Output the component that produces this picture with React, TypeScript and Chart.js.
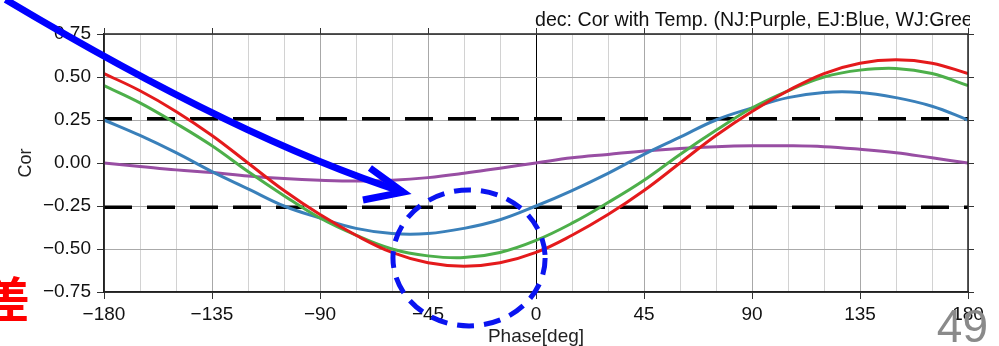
import React, { useEffect, useRef } from 'react';
import { Chart, registerables } from 'chart.js';

Chart.register(...registerables);

// ---- data ----
const phases = [-180, -165, -150, -135, -120, -105, -90, -75, -60, -45, -30, -15, 0, 15, 30, 45, 60, 75, 90, 105, 120, 135, 150, 165, 180];
const sjRed = [0.52, 0.42, 0.3, 0.16, 0.0, -0.16, -0.3, -0.42, -0.52, -0.58, -0.6, -0.58, -0.52, -0.42, -0.3, -0.16, 0.0, 0.16, 0.3, 0.42, 0.52, 0.58, 0.6, 0.58, 0.52];
const wjGreen = [0.45, 0.35, 0.23, 0.1, -0.05, -0.19, -0.32, -0.42, -0.5, -0.54, -0.55, -0.52, -0.45, -0.35, -0.23, -0.1, 0.05, 0.19, 0.32, 0.42, 0.5, 0.54, 0.55, 0.52, 0.45];
const ejBlue = [0.25, 0.16, 0.06, -0.05, -0.15, -0.25, -0.32, -0.38, -0.41, -0.41, -0.38, -0.33, -0.25, -0.16, -0.06, 0.05, 0.15, 0.25, 0.32, 0.38, 0.41, 0.41, 0.38, 0.33, 0.25];
const njPurple = [0.0, -0.02, -0.04, -0.055, -0.075, -0.09, -0.1, -0.105, -0.1, -0.085, -0.06, -0.03, 0.0, 0.03, 0.05, 0.07, 0.085, 0.095, 0.1, 0.1, 0.095, 0.08, 0.06, 0.03, 0.0];
const sigLevel = 0.257;

const titleText = 'dec: Cor with Temp. (NJ:Purple, EJ:Blue, WJ:Green, SJ:Red)';
const xAxisTitle = 'Phase[deg]';
const yAxisTitle = 'Cor';
const pageNumber = '49';
const sideNote = '差';

// annotation geometry, in data units (phase, cor)
const arrowStart = [-221, 0.95];
const arrowCtrl = [-123, 0.134];
const arrowTip = [-55.4, -0.169];
const arrowWingA = [-69.2, -0.029];
const arrowWingB = [-72.1, -0.215];
const circleCenter = [-27.9, -0.552];
const circleRadius = [31.7, 0.395];

const FONT = "'Liberation Sans', Arial, Helvetica, sans-serif";

const fmt = (v: number, digits: number) => {
  const s = Math.abs(v).toFixed(digits);
  return v < -1e-9 ? '\u2212' + s : s;
};

const overlay = {
  id: 'overlay',
  afterDatasetsDraw(chart: any) {
    const { ctx, chartArea: a, scales } = chart;
    const xs = scales.x;
    const ys = scales.y;
    ctx.save();
    ctx.strokeStyle = '#222';
    ctx.lineWidth = 1.5;
    ctx.strokeRect(a.left, a.top, a.right - a.left, a.bottom - a.top);
    ctx.lineWidth = 1;
    ctx.strokeStyle = '#333';
    ctx.beginPath();
    for (const p of phases) {
      if (p % 45 !== 0) continue;
      const px = Math.round(xs.getPixelForValue(p)) + 0.5;
      ctx.moveTo(px, a.top);
      ctx.lineTo(px, a.top - 6);
    }
    for (let v = -0.75; v <= 0.751; v += 0.25) {
      const py = Math.round(ys.getPixelForValue(v)) + 0.5;
      ctx.moveTo(a.right, py);
      ctx.lineTo(a.right + 6, py);
    }
    ctx.stroke();
    ctx.restore();
  },
  afterDraw(chart: any) {
    const { ctx, chartArea: a, scales } = chart;
    const xs = scales.x;
    const ys = scales.y;
    const P = (d: number[]) => [xs.getPixelForValue(d[0]), ys.getPixelForValue(d[1])];

    // title, clipped at the frame's right edge
    ctx.save();
    ctx.beginPath();
    ctx.rect(0, 0, a.right + 2, a.top);
    ctx.clip();
    ctx.fillStyle = '#111';
    ctx.font = `19.6px ${FONT}`;
    ctx.textAlign = 'left';
    ctx.textBaseline = 'alphabetic';
    ctx.fillText(titleText, xs.getPixelForValue(0) - 1, 26);
    ctx.restore();

    // dashed ellipse
    ctx.save();
    const c = P(circleCenter);
    const rx = Math.abs(xs.getPixelForValue(circleCenter[0] + circleRadius[0]) - c[0]);
    const ry = Math.abs(ys.getPixelForValue(circleCenter[1] + circleRadius[1]) - c[1]);
    ctx.strokeStyle = '#0a14f0';
    ctx.lineWidth = 5;
    ctx.setLineDash([17, 10]);
    ctx.beginPath();
    ctx.ellipse(c[0], c[1], rx, ry, 0, 0, Math.PI * 2);
    ctx.stroke();
    ctx.restore();

    // curved arrow
    ctx.save();
    const s = P(arrowStart);
    const k = P(arrowCtrl);
    const t = P(arrowTip);
    const wa = P(arrowWingA);
    const wb = P(arrowWingB);
    ctx.strokeStyle = '#0000ff';
    ctx.lineWidth = 7;
    ctx.lineCap = 'butt';
    ctx.lineJoin = 'miter';
    ctx.beginPath();
    ctx.moveTo(s[0], s[1]);
    ctx.quadraticCurveTo(k[0], k[1], t[0], t[1]);
    ctx.stroke();
    ctx.beginPath();
    ctx.moveTo(wa[0], wa[1]);
    ctx.lineTo(t[0], t[1]);
    ctx.lineTo(wb[0], wb[1]);
    ctx.stroke();
    ctx.restore();

    // slide texts
    ctx.save();
    ctx.fillStyle = '#ff0000';
    ctx.font = "bold 48px 'Noto Sans CJK JP', sans-serif";
    ctx.textAlign = 'right';
    ctx.textBaseline = 'middle';
    ctx.fillText(sideNote, 30, 299);
    ctx.fillStyle = '#8a8a8a';
    ctx.font = `46px ${FONT}`;
    ctx.textAlign = 'right';
    ctx.textBaseline = 'alphabetic';
    ctx.fillText(pageNumber, 988, 342);
    ctx.restore();
  },
};

export default function App() {
  const ref = useRef<HTMLCanvasElement | null>(null);
  useEffect(() => {
    document.body.style.margin = '0';
    const canvas = ref.current;
    if (!canvas) return;
    const line = (label: string, data: number[], color: string) => ({
      label,
      data: phases.map((p, i) => ({ x: p, y: data[i] })),
      borderColor: color,
      backgroundColor: color,
      borderWidth: 3,
      pointRadius: 0,
      tension: 0.4,
      fill: false,
    });
    const chart = new Chart(canvas, {
      type: 'line',
      data: {
        datasets: [
          line('SJ', sjRed, '#e41a1c'),
          line('WJ', wjGreen, '#4daf4a'),
          line('EJ', ejBlue, '#3a80ba'),
          line('NJ', njPurple, '#984ea3'),
          {
            label: 'sig+',
            data: [{ x: phases[0], y: sigLevel }, { x: phases[phases.length - 1], y: sigLevel }],
            borderColor: '#000',
            borderWidth: 3.5,
            borderDash: [28, 15],
            pointRadius: 0,
            fill: false,
          },
          {
            label: 'sig-',
            data: [{ x: phases[0], y: -sigLevel }, { x: phases[phases.length - 1], y: -sigLevel }],
            borderColor: '#000',
            borderWidth: 3.5,
            borderDash: [28, 15],
            pointRadius: 0,
            fill: false,
          },
        ],
      },
      options: {
        responsive: false,
        animation: false,
        events: [],
        layout: { padding: { left: 0, right: 31, top: 34, bottom: 0 } },
        plugins: { legend: { display: false }, tooltip: { enabled: false }, title: { display: false } },
        scales: {
          x: {
            type: 'linear',
            min: -180,
            max: 180,
            afterFit: (s: any) => { s.height = 54; },
            border: { color: '#222', width: 1.5 },
            grid: {
              color: (c: any) => (c.tick && c.tick.value === 0 ? '#000' : c.tick && c.tick.value % 45 === 0 ? '#a8a8a8' : '#d2d2d2'),
              lineWidth: 1,
              tickLength: 7,
              tickColor: (c: any) => (c.tick && c.tick.value % 45 === 0 ? '#333' : 'rgba(0,0,0,0)'),
            },
            ticks: {
              stepSize: 15,
              autoSkip: false,
              maxRotation: 0,
              padding: 4,
              color: '#111',
              font: { family: FONT, size: 19 },
              callback: (v: any) => (Number(v) % 45 === 0 ? fmt(Number(v), 0) : ''),
            },
            title: {
              display: true,
              text: xAxisTitle,
              color: '#222',
              font: { family: FONT, size: 19, lineHeight: 1 },
              padding: { top: 0, bottom: 0 },
            },
          },
          y: {
            type: 'linear',
            min: -0.75,
            max: 0.75,
            afterFit: (s: any) => { s.width = 104; },
            border: { color: '#222', width: 1.5 },
            grid: {
              color: (c: any) => (c.tick && Math.abs(c.tick.value) < 1e-9 ? '#444' : '#aaaaaa'),
              lineWidth: 1,
              tickLength: 7,
              tickColor: '#333',
            },
            ticks: {
              stepSize: 0.25,
              padding: 6,
              color: '#111',
              font: { family: FONT, size: 19 },
              callback: (v: any) => fmt(Number(v), 2),
            },
            title: {
              display: true,
              text: yAxisTitle,
              color: '#222',
              font: { family: FONT, size: 18, lineHeight: 1.2 },
              padding: { top: 15, bottom: 0 },
            },
          },
        },
      },
      plugins: [overlay],
    } as any);
    return () => chart.destroy();
  }, []);
  return (
    <div style={{ position: 'fixed', left: 0, top: 0, width: 999, height: 346, background: '#fff' }}>
      <canvas ref={ref} width={999} height={346} style={{ display: 'block', width: 999, height: 346 }} />
    </div>
  );
}
